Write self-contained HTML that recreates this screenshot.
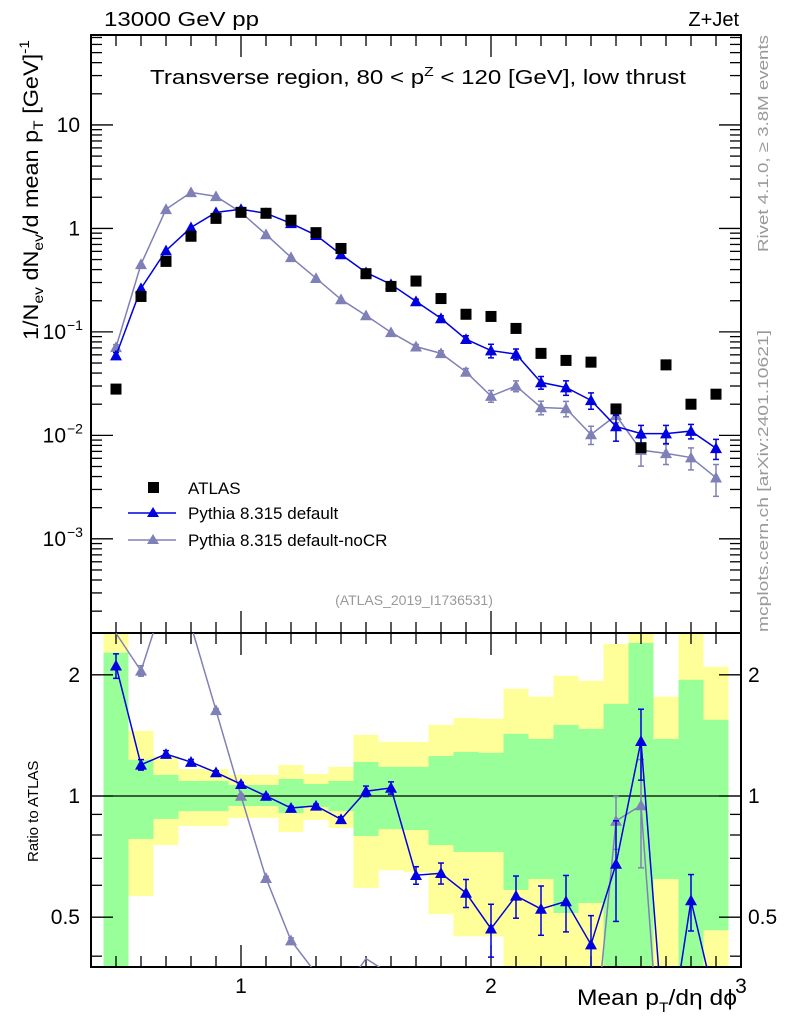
<!DOCTYPE html>
<html><head><meta charset="utf-8"><style>
html,body{margin:0;padding:0;background:#fff;width:786px;height:1024px;overflow:hidden;position:relative;}
svg{display:block;font-family:"Liberation Sans",sans-serif;}
</style></head><body>
<svg id="chart" width="786" height="1024" viewBox="0 0 786 1024" xmlns="http://www.w3.org/2000/svg" style="position:absolute;left:0;top:0"></svg>
<script>
const binCenters=[0.5,0.6,0.7,0.8,0.9,1.0,1.1,1.2,1.3,1.4,1.5,1.6,1.7,1.8,1.9,2.0,2.1,2.2,2.3,2.4,2.5,2.6,2.7,2.8,2.9];
const atlasValues=[0.028,0.22,0.48,0.84,1.25,1.43,1.40,1.2,0.91,0.64,0.365,0.275,0.31,0.21,0.148,0.141,0.108,0.062,0.053,0.051,0.018,0.0076,0.048,0.020,0.025];
const pythiaDefault=[0.059,0.263,0.61,1.02,1.43,1.53,1.40,1.12,0.86,0.56,0.375,0.288,0.197,0.135,0.085,0.066,0.061,0.0325,0.029,0.0218,0.0122,0.0104,0.0104,0.011,0.0075];
const pythiaDefaultErr=[0.07,0.03,0.02,0.015,0.01,0.01,0.01,0.01,0.01,0.015,0.03,0.035,0.05,0.06,0.08,0.15,0.12,0.14,0.16,0.18,0.28,0.2,0.2,0.16,0.22];
const pythiaNoCR=[0.071,0.45,1.53,2.23,2.04,1.43,0.875,0.525,0.33,0.206,0.144,0.099,0.072,0.062,0.041,0.024,0.030,0.0186,0.0182,0.0102,0.0156,0.0072,0.0067,0.0061,0.0039];
const pythiaNoCRErr=[0.06,0.03,0.02,0.015,0.01,0.01,0.01,0.015,0.015,0.02,0.03,0.04,0.05,0.06,0.08,0.13,0.12,0.15,0.17,0.2,0.15,0.3,0.22,0.24,0.34];
const greenHi=[2.27,1.23,1.128,1.09,1.09,1.065,1.065,1.102,1.071,1.09,1.215,1.181,1.181,1.257,1.287,1.28,1.427,1.386,1.502,1.468,1.694,2.4,1.386,1.944,1.546];
const greenLo=[0.3,0.782,0.877,0.917,0.917,0.944,0.944,0.907,0.939,0.917,0.795,0.827,0.823,0.755,0.726,0.726,0.584,0.622,0.512,0.542,0.3,0.3,0.622,0.3,0.464];
const yellowHi=[3,1.45,1.257,1.167,1.167,1.128,1.128,1.194,1.134,1.181,1.418,1.362,1.362,1.502,1.563,1.555,1.846,1.764,1.989,1.932,2.388,3,1.764,3,2.094];
const yellowLo=[0.3,0.564,0.755,0.842,0.842,0.882,0.882,0.814,0.872,0.833,0.591,0.654,0.647,0.509,0.448,0.448,0.3,0.3,0.3,0.3,0.3,0.3,0.3,0.3,0.3];
const xTicks=[1,2,3];
const yTicksMain=[{v:10,t:"10"},{v:1,t:"1"},{v:0.1,t:"10",e:"−1"},{v:0.01,t:"10",e:"−2"},{v:0.001,t:"10",e:"−3"}];
const yTicksRatio=[0.5,1,2];

const L=91,R=741,T=35,MB=633,RB=967;
const X0=0.4,X1=3.0;
const sx=v=>L+(v-X0)/(X1-X0)*(R-L);
const yMax=Math.log10(74),yMin=Math.log10(1.23e-4);
const sy=v=>T+(yMax-Math.log10(v))/(yMax-yMin)*(MB-T);
const rMax=Math.log10(2.54),rMin=Math.log10(0.376);
const sr=v=>{let l=Math.log10(Math.max(v,1e-4));return MB+(rMax-l)/(rMax-rMin)*(RB-MB);};
const inR=v=>v>=0.40&&v<=2.5;
const svg=document.getElementById('chart');
const NS='http://www.w3.org/2000/svg';
function el(tag,attrs,parent){const e=document.createElementNS(NS,tag);for(const k in attrs)e.setAttribute(k,attrs[k]);(parent||svg).appendChild(e);return e;}
function tri(x,y,c,g,s){s=s||6;return el('polygon',{points:`${x},${y-s} ${x-s},${y+s*0.8} ${x+s},${y+s*0.8}`,fill:c},g);}

const defs=el('defs',{});
const cp=el('clipPath',{id:'rclip'},defs);el('rect',{x:L,y:MB,width:R-L,height:RB-MB},cp);
const cp2=el('clipPath',{id:'mclip'},defs);el('rect',{x:L,y:T,width:R-L,height:MB-T},cp2);

const bands=el('g',{'clip-path':'url(#rclip)'});


binCenters.forEach((c,i)=>{
  const x0=sx(c-0.05),x1=sx(c+0.05);
  const yb=el('rect',{x:x0,y:sr(yellowHi[i]),width:x1-x0,height:sr(yellowLo[i])-sr(yellowHi[i]),fill:'#ffff99'},bands);
  
  
  const gb=el('rect',{x:x0,y:sr(greenHi[i]),width:x1-x0,height:sr(greenLo[i])-sr(greenHi[i]),fill:'#99ff99'},bands);
  
  
});
el('line',{x1:L,x2:R,y1:sr(1),y2:sr(1),stroke:'#000','stroke-width':1.3});

el('rect',{x:L,y:T,width:R-L,height:MB-T,fill:'none',stroke:'#000','stroke-width':2});
el('rect',{x:L,y:MB,width:R-L,height:RB-MB,fill:'none',stroke:'#000','stroke-width':2});

const axg=el('g',{stroke:'#000','stroke-width':1.3});
for(let k=5;k<=30;k++){const v=k/10;const x=sx(v);const maj=(k%10===0);const len=maj?22:11;
  [[T,1],[MB,-1],[MB,1],[RB,-1]].forEach(([y,d])=>el('line',{x1:x,x2:x,y1:y,y2:y+d*len},axg));}
xTicks.forEach(v=>{const t=el('text',{x:sx(v),y:993,'font-size':21,'text-anchor':'middle'});t.textContent=v;
 
 });
for(let e=-4;e<=1;e++){for(let m=1;m<=9;m++){const v=m*Math.pow(10,e);if(v<1.23e-4||v>74)continue;const y=sy(v);const len=m===1?22:11;
  el('line',{x1:L,x2:L+len,y1:y,y2:y},axg);el('line',{x1:R,x2:R-len,y1:y,y2:y},axg);}}
yTicksMain.forEach(o=>{const t=el('text',{x:80,y:sy(o.v)+7,'font-size':21,'text-anchor':'end'});
 
 
 if(o.e){t.setAttribute('x',66);t.textContent=o.t;const s=el('text',{x:67,y:sy(o.v)-2,'font-size':14});s.textContent=o.e;}else t.textContent=o.t;});
[0.4,0.5,0.6,0.7,0.8,0.9,1,2].forEach(v=>{const y=sr(v);const maj=yTicksRatio.includes(v);const len=maj?22:11;
  el('line',{x1:L,x2:L+len,y1:y,y2:y},axg);el('line',{x1:R,x2:R-len,y1:y,y2:y},axg);});
yTicksRatio.forEach(v=>{[[80,'end'],[748,'start']].forEach(([x,a])=>{const t=el('text',{x:x,y:sr(v)+7,'font-size':21,'text-anchor':a});t.textContent=v;
 
 });});

function series(vals,errs,color,name){
  const grp=el('g',{'clip-path':'url(#mclip)'});
  
  
  el('polyline',{points:binCenters.map((c,i)=>sx(c)+','+sy(vals[i])).join(' '),fill:'none',stroke:color,'stroke-width':1.5},grp);
  binCenters.forEach((c,i)=>{const x=sx(c);if(errs[i]>0.04){el('line',{x1:x,x2:x,y1:sy(vals[i]*(1+errs[i])),y2:sy(vals[i]*(1-errs[i])),stroke:color,'stroke-width':1.5},grp);
    [1+errs[i],1-errs[i]].forEach(f=>el('line',{x1:x-3,x2:x+3,y1:sy(vals[i]*f),y2:sy(vals[i]*f),stroke:color,'stroke-width':1.5},grp));}
    tri(x,sy(vals[i]),color,grp);});
}
series(pythiaNoCR,pythiaNoCRErr,'#8080b8','pythia-nocr-series');
series(pythiaDefault,pythiaDefaultErr,'#0000e0','pythia-default-series');
const ag=el('g',{});


binCenters.forEach((c,i)=>{el('rect',{x:sx(c)-5.5,y:sy(atlasValues[i])-5.5,width:11,height:11,fill:'#000'},ag);});

function rseries(vals,errs,color,name){
  const grp=el('g',{'clip-path':'url(#rclip)'});
  
  
  const r=vals.map((v,i)=>v/atlasValues[i]);
  el('polyline',{points:binCenters.map((c,i)=>sx(c)+','+sr(r[i])).join(' '),fill:'none',stroke:color,'stroke-width':1.5},grp);
  binCenters.forEach((c,i)=>{if(!inR(r[i]))return;const x=sx(c);const hi=r[i]*(1+errs[i]),lo=r[i]*(1-errs[i]);
    el('line',{x1:x,x2:x,y1:sr(hi),y2:sr(lo),stroke:color,'stroke-width':1.5},grp);
    [hi,lo].forEach(v=>el('line',{x1:x-3,x2:x+3,y1:sr(v),y2:sr(v),stroke:color,'stroke-width':1.5},grp));
    tri(x,sr(r[i]),color,grp);});
}
rseries(pythiaNoCR,pythiaNoCRErr,'#8080b8','ratio-nocr-series');
rseries(pythiaDefault,pythiaDefaultErr,'#0000e0','ratio-default-series');
</script>
<svg style="position:absolute;left:0;top:0" width="786" height="1024" font-family="Liberation Sans, sans-serif">
<text x="104" y="26" font-size="20" textLength="155" lengthAdjust="spacingAndGlyphs">13000 GeV pp</text>
<text x="739" y="26" font-size="20" text-anchor="end">Z+Jet</text>
<text x="150" y="84" font-size="20" textLength="536" lengthAdjust="spacingAndGlyphs">Transverse region, 80 &lt; p<tspan font-size="13" dy="-8">Z</tspan><tspan dy="8">  &lt; 120 [GeV], low thrust</tspan></text>
<text transform="translate(38,340) rotate(-90)" font-size="21" textLength="300" lengthAdjust="spacingAndGlyphs">1/N<tspan font-size="14" dy="5">ev</tspan><tspan dy="-5"> dN</tspan><tspan font-size="14" dy="5">ev</tspan><tspan dy="-5">/d mean p</tspan><tspan font-size="14" dy="5">T</tspan><tspan dy="-5"> [GeV]</tspan><tspan font-size="14" dy="-9">-1</tspan></text>
<text transform="translate(38,862) rotate(-90)" font-size="15">Ratio to ATLAS</text>
<text x="577" y="1005" font-size="22" textLength="160" lengthAdjust="spacingAndGlyphs">Mean p<tspan font-size="14" dy="7">T</tspan><tspan dy="-7">/dη dϕ</tspan></text>
<text transform="translate(768,252) rotate(-90)" font-size="15" fill="#999" textLength="217" lengthAdjust="spacingAndGlyphs">Rivet 4.1.0, ≥ 3.8M events</text>
<text transform="translate(768,632) rotate(-90)" font-size="15" fill="#999" textLength="302" lengthAdjust="spacingAndGlyphs">mcplots.cern.ch [arXiv:2401.10621]</text>
<text x="414" y="605" font-size="14" fill="#999" text-anchor="middle">(ATLAS_2019_I1736531)</text>
<g font-size="17">
<rect x="148" y="482" width="11" height="11" fill="#000"/>
<text x="188" y="494">ATLAS</text>
<line x1="128" x2="176" y1="513" y2="513" stroke="#0000e0" stroke-width="1.5"/>
<polygon points="153,507 147,517 159,517" fill="#0000e0"/>
<text x="188" y="519">Pythia 8.315 default</text>
<line x1="128" x2="176" y1="540" y2="540" stroke="#8080b8" stroke-width="1.5"/>
<polygon points="153,534 147,544 159,544" fill="#8080b8"/>
<text x="188" y="546">Pythia 8.315 default-noCR</text>
</g>
</svg>
</body></html>
